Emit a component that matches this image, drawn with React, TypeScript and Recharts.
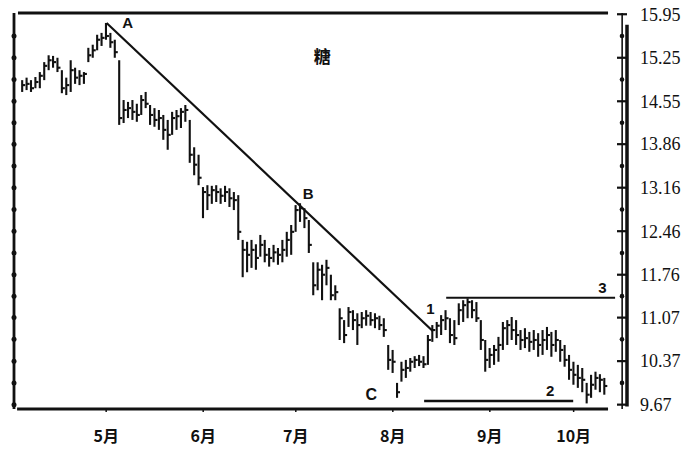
import React from "react";
import { Bar, ComposedChart, ReferenceDot, ReferenceLine, XAxis, YAxis } from "recharts";

// daily bars (values in price units)
const highs = [
  14.89, 14.93, 14.89, 14.94, 15.02, 15.18, 15.29, 15.28, 15.25, 15.05,
  14.93, 15.21, 15.09, 15.05, 15.02, 15.41, 15.46, 15.62, 15.65, 15.81,
  15.65, 15.54, 15.21, 14.57, 14.54, 14.57, 14.51, 14.65, 14.7, 14.49,
  14.44, 14.41, 14.33, 14.25, 14.38, 14.41, 14.44, 14.49, 14.25, 13.81,
  13.69, 13.17, 13.2, 13.19, 13.2, 13.15, 13.19, 13.15, 13.09, 13.04,
  12.32, 12.29, 12.32, 12.25, 12.4, 12.32, 12.19, 12.24, 12.19, 12.32,
  12.45, 12.56, 12.88, 12.91, 12.83, 12.64, 11.96, 11.96, 11.92, 12.0,
  11.76, 11.59, 11.22, 11.03, 11.24, 11.19, 11.14, 11.16, 11.19, 11.16,
  11.14, 11.1, 11.06, 10.63, 10.55, 10.02, 10.36, 10.39, 10.42, 10.45,
  10.47, 10.45, 10.79, 10.95, 11.0, 11.11, 11.19, 11.06, 11.03, 11.3,
  11.35, 11.38, 11.35, 11.32, 11.03, 10.71, 10.58, 10.63, 10.76, 11.0,
  11.03, 11.08, 11.03, 10.87, 10.9, 10.84, 10.87, 10.82, 10.87, 10.92,
  10.84, 10.87, 10.71, 10.63, 10.47, 10.36, 10.31, 10.26, 10.02, 10.15,
  10.2, 10.16, 10.1,
];
const lows = [
  14.7, 14.73, 14.7, 14.76, 14.76, 14.89, 15.05, 15.09, 15.02, 14.68,
  14.65, 14.7, 14.83, 14.81, 14.83, 15.18, 15.25, 15.37, 15.44, 15.54,
  15.41, 15.25, 14.17, 14.2, 14.28, 14.25, 14.22, 14.33, 14.44, 14.17,
  14.14, 14.09, 13.93, 13.77, 14.01, 14.09, 14.12, 14.22, 13.56, 13.36,
  13.2, 12.67, 12.8, 12.9, 12.93, 12.9, 12.93, 12.85, 12.8, 12.32,
  11.72, 11.8, 11.87, 11.84, 12.05, 11.96, 11.89, 11.96, 11.92, 11.96,
  12.05, 12.08, 12.45, 12.61, 12.51, 12.11, 11.43, 11.51, 11.35, 11.59,
  11.35, 11.35, 10.71, 10.66, 10.92, 10.87, 10.63, 10.9, 10.94, 10.94,
  10.9, 10.87, 10.76, 10.23, 10.18, 9.78, 10.04, 10.1, 10.2, 10.26,
  10.29, 10.26, 10.31, 10.68, 10.74, 10.79, 10.87, 10.66, 10.63, 10.95,
  11.0, 11.06, 11.06, 11.0, 10.55, 10.2, 10.26, 10.31, 10.36, 10.55,
  10.63, 10.71, 10.63, 10.55, 10.58, 10.52, 10.55, 10.44, 10.47, 10.55,
  10.44, 10.52, 10.36, 10.28, 10.07, 9.99, 9.94, 9.87, 9.69, 9.78,
  9.91, 9.87, 9.83,
];
const closes = [
  14.81, 14.83, 14.76, 14.86, 14.96, 15.12, 15.21, 15.18, 15.09, 14.76,
  14.81, 15.05, 14.93, 14.96, 14.99, 15.29, 15.37, 15.54, 15.57, 15.6,
  15.5, 15.34, 14.28, 14.41, 14.44, 14.38, 14.33, 14.57, 14.51, 14.33,
  14.25, 14.28, 14.09, 14.01, 14.28, 14.31, 14.38, 14.41, 13.69, 13.53,
  13.32, 13.09, 13.04, 13.12, 13.09, 13.03, 13.09, 12.99, 12.96, 12.45,
  12.16, 12.08, 12.16, 12.03, 12.24, 12.08, 12.03, 12.12, 12.08, 12.16,
  12.32, 12.45, 12.8, 12.83, 12.67, 12.24, 11.59, 11.84, 11.76, 11.87,
  11.43, 11.48, 11.06, 10.79, 11.16, 11.03, 10.95, 11.06, 11.1, 11.03,
  11.06, 10.95, 10.87, 10.39, 10.36, 9.87, 10.23, 10.26, 10.36, 10.39,
  10.36, 10.32, 10.71, 10.87, 10.94, 11.03, 11.06, 10.79, 10.74, 11.19,
  11.27, 11.32, 11.19, 11.06, 10.71, 10.39, 10.47, 10.55, 10.63, 10.9,
  10.95, 10.87, 10.79, 10.71, 10.74, 10.68, 10.71, 10.63, 10.71, 10.79,
  10.63, 10.71, 10.55, 10.39, 10.23, 10.15, 10.1, 10.07, 9.83, 9.99,
  10.1, 10.07, 9.97,
];

// month starts (trading-day index) and their labels
const monthDays = [20, 42, 63, 85, 107, 126];
const monthLabels = ["5月", "6月", "7月", "8月", "9月", "10月"];

const priceLabels = [15.95, 15.25, 14.55, 13.86, 13.16, 12.46, 11.76, 11.07, 10.37, 9.67];

const rows = highs.map((h, i) => ({
  day: i + 1,
  range: [lows[i], h],
  high: h,
  low: lows[i],
  close: closes[i],
}));

const allTicks: number[] = [];
priceLabels.forEach((v, i) => {
  allTicks.push(v);
  if (i < priceLabels.length - 1) allTicks.push((v + priceLabels[i + 1]) / 2);
});

const isMajor = (v: number) => priceLabels.some((p) => Math.abs(p - v) < 0.001);

const Y_DOMAIN: [number, number] = [9.6, 15.97];
const X_DOMAIN: [number, number] = [-0.9, 138.1];

const OhlcBar = (props: any) => {
  const { x, y, width, height, payload } = props;
  if (x == null || y == null) return null;
  const cx = x + width / 2;
  const top = Math.min(y, y + height);
  const bottom = Math.max(y, y + height);
  const span = payload.high - payload.low || 1;
  const yc = top + ((payload.high - payload.close) / span) * (bottom - top);
  return (
    <g stroke="#111" strokeWidth={2.1}>
      <line x1={cx} x2={cx} y1={top} y2={bottom} />
      <line x1={cx} x2={cx + 3} y1={yc} y2={yc} />
    </g>
  );
};

const MonthTick = (props: any) => {
  const { x, y, payload } = props;
  const i = monthDays.indexOf(payload.value);
  return (
    <text
      x={x}
      y={y + 28}
      textAnchor="middle"
      fontFamily="'Noto Sans CJK SC', sans-serif"
      fontWeight="bold"
      fontSize={16}
      fill="#111"
    >
      {monthLabels[i]}
    </text>
  );
};

const LeftTick = (props: any) => <circle cx={props.x} cy={props.y} r={2.5} fill="#111" />;

const RightTick = (props: any) => {
  const { x, y, payload } = props;
  if (!isMajor(payload.value)) return <circle cx={x - 5} cy={y} r={2.3} fill="#111" />;
  return (
    <g>
      <line x1={x - 10} x2={x} y1={y} y2={y} stroke="#111" strokeWidth={2.2} />
      <text
        x={x + 13}
        y={y}
        dy="0.35em"
        fontFamily="'Liberation Serif', serif"
        fontSize={18}
        fill="#111"
      >
        {payload.value.toFixed(2)}
      </text>
    </g>
  );
};

const tag = (text: string, size = 15, family = "'Liberation Sans', Arial, sans-serif") => (p: any) => (
  <text
    x={p.cx}
    y={p.cy}
    dy="0.36em"
    textAnchor="middle"
    fontFamily={family}
    fontWeight="bold"
    fontSize={size}
    fill="#111"
  >
    {text}
  </text>
);

export default function App() {
  return (
    <div style={{ position: "absolute", left: 0, top: 0, width: 695, height: 449, background: "#fff" }}>
      <ComposedChart width={695} height={449} data={rows} margin={{ top: 13, right: 0, bottom: 0, left: 13 }}>
        <XAxis
          type="number"
          dataKey="day"
          domain={X_DOMAIN}
          allowDataOverflow
          ticks={monthDays}
          interval={0}
          tick={MonthTick}
          axisLine={false}
          tickLine={{ stroke: "#111", strokeWidth: 1.5 }}
          tickSize={3}
          height={40}
        />
        <YAxis
          yAxisId="left"
          orientation="left"
          width={1}
          domain={Y_DOMAIN}
          allowDataOverflow
          ticks={allTicks.slice(1)}
          interval={0}
          tick={LeftTick}
          tickLine={false}
          tickSize={0}
          tickMargin={0}
          axisLine={{ stroke: "#111", strokeWidth: 2.8 }}
        />
        <YAxis
          yAxisId="right"
          orientation="right"
          width={68}
          domain={Y_DOMAIN}
          allowDataOverflow
          ticks={allTicks}
          interval={0}
          tick={RightTick}
          tickLine={false}
          tickSize={0}
          tickMargin={0}
          axisLine={false}
        />

        {/* frame lines */}
        <ReferenceLine
          yAxisId="right"
          segment={[{ x: 0, y: 15.97 }, { x: 133.8, y: 15.97 }]}
          stroke="#111"
          strokeWidth={3.2}
        />
        <ReferenceLine
          yAxisId="right"
          segment={[{ x: -0.2, y: 9.6 }, { x: 133.8, y: 9.6 }]}
          stroke="#111"
          strokeWidth={3.2}
        />
        <ReferenceLine yAxisId="right" x={137} stroke="#111" strokeWidth={1.6} />
        <ReferenceLine
          yAxisId="right"
          segment={[{ x: 138.1, y: 15.78 }, { x: 138.1, y: 9.64 }]}
          stroke="#111"
          strokeWidth={3.5}
        />

        <Bar yAxisId="right" dataKey="range" barSize={2} shape={OhlcBar} isAnimationActive={false} />

        {/* trend line A-B-1 and the horizontal lines 2, 3 */}
        <ReferenceLine
          yAxisId="right"
          segment={[{ x: 20.1, y: 15.81 }, { x: 94.1, y: 10.85 }]}
          stroke="#111"
          strokeWidth={2.2}
        />
        <ReferenceLine
          yAxisId="right"
          segment={[{ x: 97.1, y: 11.39 }, { x: 135.4, y: 11.39 }]}
          stroke="#111"
          strokeWidth={2}
        />
        <ReferenceLine
          yAxisId="right"
          segment={[{ x: 92.1, y: 9.73 }, { x: 125.9, y: 9.73 }]}
          stroke="#111"
          strokeWidth={2.5}
        />

        <ReferenceDot yAxisId="right" x={24.9} y={15.81} r={0} shape={tag("A")} />
        <ReferenceDot yAxisId="right" x={65.8} y={13.06} r={0} shape={tag("B")} />
        <ReferenceDot yAxisId="right" x={80.1} y={9.84} r={0} shape={tag("C", 16)} />
        <ReferenceDot yAxisId="right" x={93.5} y={11.21} r={0} shape={tag("1")} />
        <ReferenceDot yAxisId="right" x={120.7} y={9.89} r={0} shape={tag("2")} />
        <ReferenceDot yAxisId="right" x={132.5} y={11.55} r={0} shape={tag("3")} />
        <ReferenceDot
          yAxisId="right"
          x={69}
          y={15.26}
          r={0}
          shape={tag("糖", 17, "'Noto Sans CJK SC', sans-serif")}
        />
      </ComposedChart>
    </div>
  );
}
